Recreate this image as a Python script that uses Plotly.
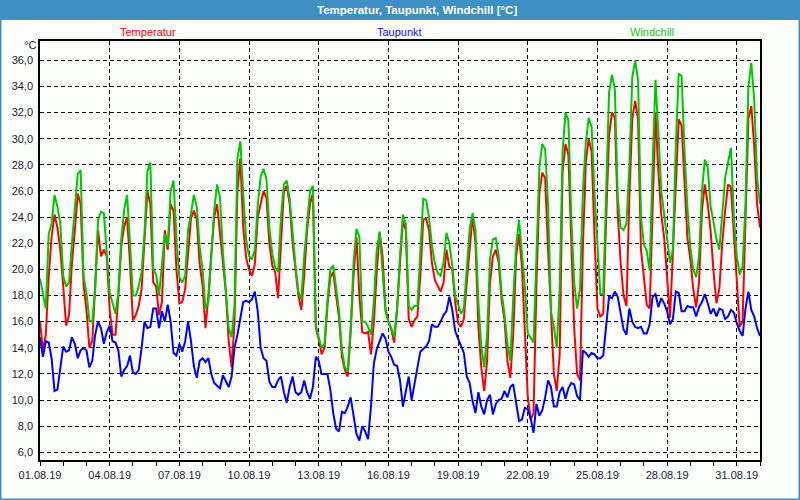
import pandas as pd
import plotly.graph_objects as go

# ---------------- data (3-hourly samples, 01.08.19 00:00 .. 01.09.19 00:00) ----------------
temperatur = [
    16.0, 13.8, 15.0, 19.5, 22.5, 24.2, 23.2, 21.5,
    18.7, 15.7, 16.5, 20.5, 23.0, 25.8, 25.0, 18.8,
    16.9, 14.0, 14.5, 19.0, 23.0, 21.0, 21.5, 21.0,
    16.9, 15.0, 15.0, 18.0, 21.8, 23.3, 24.0, 20.5,
    16.1, 16.5, 17.2, 18.5, 22.0, 26.0, 25.0, 19.0,
    18.7, 16.5, 17.5, 23.0, 21.5, 25.0, 24.5, 20.0,
    17.4, 17.5, 18.5, 21.2, 23.9, 24.5, 23.8, 20.4,
    18.8, 15.5, 18.0, 21.2, 24.0, 25.0, 22.8, 20.5,
    18.3, 14.5, 12.5, 16.0, 26.0, 28.5, 23.2, 20.9,
    20.0, 19.5, 20.4, 24.0, 25.0, 26.0, 25.5, 22.0,
    20.3, 19.8, 17.8, 22.0, 26.0, 26.4, 25.0, 22.0,
    20.0, 18.0, 16.9, 19.5, 23.0, 25.0, 25.8, 15.5,
    14.7, 13.5, 14.0, 17.2, 19.4, 19.8, 18.0, 16.3,
    13.3, 12.3, 11.8, 15.2, 19.5, 22.5, 18.0, 15.2,
    15.1, 15.2, 13.5, 16.0, 19.8, 22.8, 21.0, 17.0,
    16.0, 15.4, 14.4, 17.0, 20.5, 23.7, 23.0, 16.2,
    15.6, 16.1, 16.4, 19.5, 23.8, 23.9, 23.0, 20.5,
    19.2, 18.7, 18.3, 19.0, 21.5, 20.2, 20.0, 17.5,
    15.9, 15.6, 16.2, 19.0, 21.8, 24.1, 22.0, 15.6,
    12.5, 10.7, 13.0, 19.0, 21.0, 21.5, 20.5, 17.7,
    16.1, 13.0, 11.7, 15.0, 21.0, 22.7, 20.2, 15.5,
    10.3, 8.5, 9.0, 18.8, 25.8, 27.4, 27.0, 21.5,
    16.6, 12.0, 10.7, 13.5, 27.5, 29.6, 28.8, 21.5,
    15.5, 12.0, 11.5, 21.8, 28.2, 30.0, 29.0, 22.5,
    17.0, 16.4, 16.6, 23.8, 30.2, 32.0, 31.6, 24.3,
    20.5, 18.0, 17.2, 25.5, 31.5, 32.9, 31.5, 21.5,
    19.3, 17.3, 17.0, 24.5, 32.0, 27.5, 24.2, 22.4,
    19.0, 16.3, 21.3, 26.0, 31.5, 31.0, 26.6, 22.4,
    20.8, 18.5, 17.1, 19.0, 24.5, 26.5, 25.0, 22.9,
    19.8, 17.4, 18.5, 22.0, 24.5, 26.5, 26.3, 22.5,
    18.5, 15.6, 16.0, 24.0, 31.5, 32.5, 29.5, 25.0,
    23.2,
]

windchill = [
    19.3, 18.0, 17.0, 22.7, 23.5, 25.7, 24.8, 23.5,
    19.5, 18.7, 19.0, 22.0, 24.8, 27.3, 27.6, 19.5,
    18.2, 16.1, 16.0, 18.5, 23.8, 24.4, 24.3, 21.5,
    18.2, 17.4, 16.6, 18.3, 22.3, 24.6, 25.7, 22.0,
    18.0, 18.0, 18.7, 19.8, 22.8, 27.5, 28.2, 20.0,
    19.6, 18.0, 20.5, 22.7, 21.8, 26.0, 26.8, 22.3,
    19.4, 19.0, 19.5, 23.0, 24.3, 25.7, 24.8, 21.7,
    20.0, 17.0, 17.5, 21.2, 24.5, 26.5, 25.5, 21.3,
    18.5, 15.5, 14.8, 17.2, 28.5, 29.8, 25.8, 22.3,
    21.0, 20.8, 21.5, 24.9, 27.1, 27.7, 26.9, 23.2,
    21.2, 20.2, 19.8, 24.0, 26.5, 26.8, 25.4, 22.5,
    20.3, 18.3, 17.7, 21.0, 23.8, 26.0, 26.4, 15.7,
    14.8, 14.0, 14.3, 17.6, 20.0, 20.3, 18.6, 16.8,
    13.8, 12.5, 12.2, 15.5, 20.5, 23.1, 22.5, 16.0,
    16.0, 15.6, 15.0, 17.5, 21.5, 22.9, 19.8, 16.8,
    16.0, 15.5, 14.8, 17.0, 21.0, 24.2, 23.5, 17.2,
    16.9, 17.2, 17.2, 21.5, 25.4, 25.3, 24.0, 21.8,
    20.5, 19.7, 19.5, 20.5, 22.8, 22.0, 20.3, 18.0,
    17.2, 16.6, 17.0, 20.0, 23.1, 24.3, 23.0, 17.5,
    14.1, 12.5, 15.0, 20.8, 22.3, 22.4, 21.0, 18.2,
    16.6, 14.3, 13.0, 17.8, 21.8, 23.8, 21.5, 18.7,
    15.1, 14.7, 14.4, 21.0, 27.8, 29.6, 29.2, 25.0,
    16.8, 15.6, 14.0, 18.5, 29.0, 32.0, 31.4, 24.0,
    19.0, 17.0, 18.5, 26.0, 29.7, 31.6, 30.9, 25.8,
    21.7, 18.1, 18.1, 26.1, 33.5, 34.9, 33.8, 25.5,
    23.2, 23.0, 23.5, 27.8, 34.7, 36.0, 34.5, 24.0,
    21.9, 21.4, 19.9, 28.0, 34.5, 30.5, 26.0, 24.2,
    22.2, 20.5, 21.5, 29.5, 35.0, 34.8, 29.1, 24.7,
    21.7, 20.0, 19.4, 21.0, 26.0, 28.4, 27.8, 24.8,
    23.6, 22.3, 21.5, 24.0, 27.0, 28.2, 29.3, 24.0,
    21.0, 19.6, 20.2, 25.0, 34.0, 35.8, 33.0, 27.0,
    25.0,
]

taupunkt = [
    14.8, 13.3, 14.5, 14.4, 13.2, 10.7, 10.8, 12.5,
    14.1, 13.7, 13.8, 14.8, 14.3, 13.2, 13.8, 14.0,
    13.8, 12.5, 13.0, 15.0, 16.0, 15.5, 14.3, 15.2,
    15.7, 14.5, 14.4, 13.8, 11.8, 12.3, 12.6, 13.4,
    12.1, 12.0, 12.3, 14.0, 16.0, 15.5, 15.6, 17.0,
    17.0, 15.5, 16.8, 16.0, 17.3, 16.0, 13.6, 13.4,
    14.3, 13.7, 14.5, 16.0, 14.5, 12.6, 11.7, 13.0,
    13.2, 12.9, 13.2, 12.0, 11.3, 11.1, 10.9, 11.9,
    11.5, 11.0, 11.8, 14.0, 15.0, 16.2, 17.5, 17.6,
    17.5, 17.7, 18.3, 16.8, 14.0, 13.2, 13.0, 11.4,
    11.0, 11.0, 11.5, 11.8, 10.6, 9.8, 11.0, 11.8,
    10.6, 10.4, 10.6, 11.5, 10.6, 10.1, 11.0, 13.3,
    13.0, 12.0, 12.0, 12.0, 10.8, 9.0, 7.8, 7.6,
    9.1, 9.0, 9.5, 10.2, 8.8, 7.4, 6.9, 8.0,
    7.6, 7.0, 9.5, 12.8, 13.9, 14.5, 15.1, 14.7,
    13.7, 13.3, 12.7, 12.6, 11.5, 9.5, 10.8, 11.8,
    10.0, 11.3, 12.4, 13.7, 13.9, 14.1, 14.5, 15.8,
    15.6, 15.6, 16.0, 16.5, 16.8, 17.9, 16.9, 15.3,
    14.7, 14.2, 13.6, 11.8, 11.3, 9.9, 9.0, 10.6,
    9.5, 8.9, 10.0, 10.4, 8.9, 9.7, 10.0, 10.1,
    10.7, 10.2, 11.0, 11.2, 9.8, 8.4, 8.5, 9.4,
    9.3, 8.6, 7.5, 9.7, 8.8, 9.2, 10.2, 11.5,
    11.0, 9.5, 9.5, 10.6, 11.0, 10.1, 10.9, 11.3,
    11.2, 10.3, 10.0, 13.8, 13.6, 13.3, 13.6, 13.5,
    13.2, 13.2, 13.4, 15.6, 17.9, 17.8, 18.3, 17.9,
    16.5, 15.4, 15.0, 17.0, 16.0, 15.6, 15.5, 15.6,
    15.1, 15.1, 15.8, 17.9, 18.1, 17.1, 17.8, 17.4,
    16.8, 15.8, 16.2, 18.3, 18.2, 16.8, 16.8, 17.2,
    17.1, 17.1, 16.4, 17.1, 17.5, 18.1, 17.4, 16.6,
    17.0, 16.4, 17.0, 16.9, 16.2, 16.4, 16.9, 16.7,
    15.9, 15.3, 14.9, 17.0, 18.3, 16.9, 16.4, 15.5,
    14.9,
]

zeit = pd.date_range("2019-08-01 00:00", periods=len(temperatur), freq="3h")

y_tickvals = [6, 8, 10, 12, 14, 16, 18, 20, 22, 24, 26, 28, 30, 32, 34, 36]
y_ticktext = ["6,0", "8,0", "10,0", "12,0", "14,0", "16,0", "18,0", "20,0",
              "22,0", "24,0", "26,0", "28,0", "30,0", "32,0", "34,0", "36,0"]

# ---------------- styling ----------------
W, H = 800, 500
ML, MR, MT, MB = 40, 40, 41, 40
PW, PH = W - ML - MR, H - MT - MB
FONT = "Liberation Sans"
FRAME = "#3d8fc4"
BG = "#fbfdfb"


def px(xp):
    return (xp - ML) / PW


def py(yp):
    return (H - MB - yp) / PH


fig = go.Figure()
fig.add_trace(go.Scatter(x=zeit, y=temperatur, mode="lines", name="Temperatur",
                         line=dict(color="#ff0000", width=2)))
fig.add_trace(go.Scatter(x=zeit, y=windchill, mode="lines", name="Windchill",
                         line=dict(color="#00c800", width=2)))
fig.add_trace(go.Scatter(x=zeit, y=taupunkt, mode="lines", name="Taupunkt",
                         line=dict(color="#0000ff", width=2)))

shapes = [
    dict(type="rect", xref="paper", yref="paper", x0=px(0), x1=px(W), y0=py(20), y1=py(0),
         fillcolor=FRAME, line=dict(width=0), layer="below"),
    dict(type="rect", xref="paper", yref="paper", x0=px(0), x1=px(1.5), y0=py(H), y1=py(0),
         fillcolor=FRAME, line=dict(width=0), layer="below"),
    dict(type="rect", xref="paper", yref="paper", x0=px(W - 1.5), x1=px(W), y0=py(H), y1=py(0),
         fillcolor=FRAME, line=dict(width=0), layer="below"),
    dict(type="rect", xref="paper", yref="paper", x0=px(0), x1=px(W), y0=py(H), y1=py(H - 1.5),
         fillcolor=FRAME, line=dict(width=0), layer="below"),
]

annotations = [
    dict(text="<b>Temperatur, Taupunkt, Windchill [°C]</b>", xref="paper", yref="paper",
         x=px(417), y=py(10), xanchor="center", yanchor="middle", showarrow=False,
         font=dict(family=FONT, size=11.5, color="white")),
    dict(text="Temperatur", xref="paper", yref="paper", x=px(148), y=py(32),
         xanchor="center", yanchor="middle", showarrow=False,
         font=dict(family=FONT, size=11, color="#ff0000")),
    dict(text="Taupunkt", xref="paper", yref="paper", x=px(399), y=py(32),
         xanchor="center", yanchor="middle", showarrow=False,
         font=dict(family=FONT, size=11, color="#1010ee")),
    dict(text="Windchill", xref="paper", yref="paper", x=px(652), y=py(32),
         xanchor="center", yanchor="middle", showarrow=False,
         font=dict(family=FONT, size=11, color="#10cc10")),
    dict(text="°C", xref="paper", yref="paper", x=px(38), y=py(45),
         xanchor="right", yanchor="middle", showarrow=False,
         font=dict(family=FONT, size=11, color="#1a1a33")),
]

fig.update_layout(
    width=W, height=H,
    margin=dict(l=ML, r=MR, t=MT, b=MB, pad=0),
    paper_bgcolor=BG, plot_bgcolor=BG,
    showlegend=False,
    shapes=shapes,
    annotations=annotations,
    font=dict(family=FONT, size=11, color="#1a1a33"),
)

fig.update_xaxes(
    type="date",
    range=["2019-08-01 00:00", "2019-09-01 00:00"],
    tick0="2019-08-01", dtick=3 * 86400000, tickformat="%d.%m.%y",
    ticks="outside", ticklen=4, tickcolor="black", tickwidth=1,
    showgrid=True, gridcolor="black", gridwidth=1, griddash="4px,3px",
    minor=dict(dtick=86400000, ticks="outside", ticklen=4, tickcolor="black", showgrid=False),
    showline=True, linecolor="black", linewidth=1.5, mirror=True,
    zeroline=False,
    tickfont=dict(family=FONT, size=11, color="#1a1a33"),
)

fig.update_yaxes(
    range=[5.41, 37.48],
    tickvals=y_tickvals, ticktext=y_ticktext,
    ticks="", ticklabelstandoff=3,
    showgrid=True, gridcolor="black", gridwidth=1, griddash="4px,3px",
    showline=True, linecolor="black", linewidth=1.5, mirror=True,
    zeroline=False,
    tickfont=dict(family=FONT, size=11, color="#1a1a33"),
)

fig.write_html(
    "out.html",
    config={"displayModeBar": False},
    post_script="document.body.style.margin='0';document.body.style.overflow='hidden';",
)
